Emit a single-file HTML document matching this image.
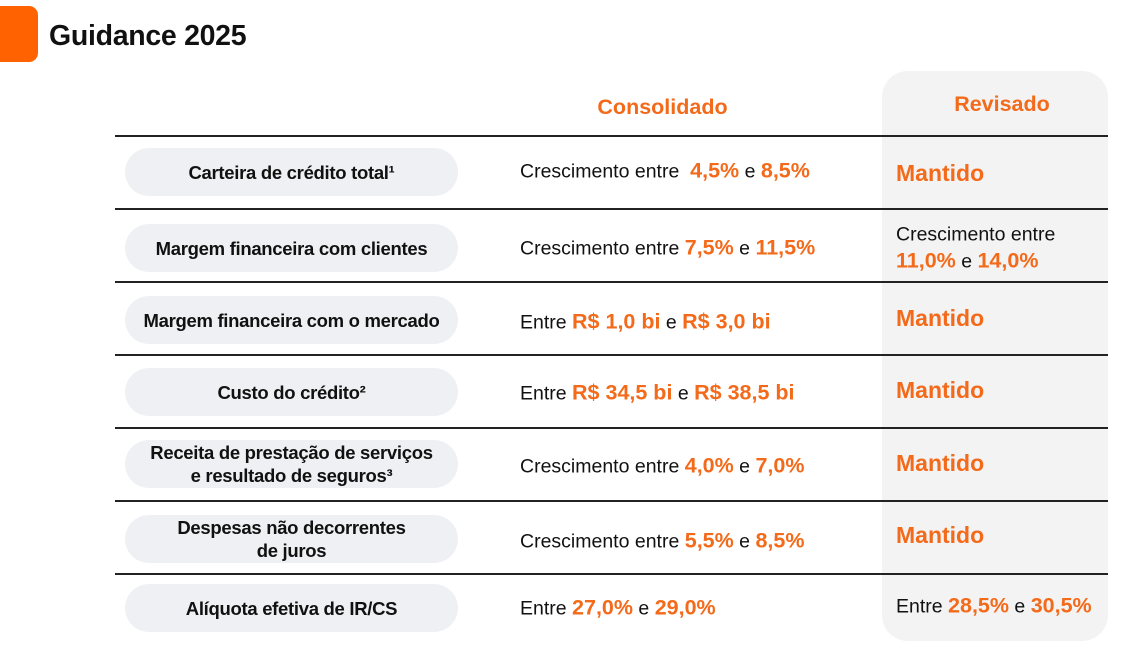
<!DOCTYPE html>
<html><head><meta charset="utf-8"><style>
body{margin:0;width:1137px;height:660px;background:#fff;position:relative;overflow:hidden;font-family:"Liberation Sans",sans-serif;color:#111}
.logo{position:absolute;left:-10px;top:6px;width:48px;height:56px;background:#ff6200;border-radius:9px}
.title{position:absolute;left:49px;top:20px;font-size:28.5px;font-weight:bold;letter-spacing:-0.3px}
.col{position:absolute;left:882px;top:71px;width:226px;height:570px;background:#f3f3f3;border-radius:26px}
.line{position:absolute;left:115px;width:993px;height:1.5px;background:#222}
.h{position:absolute;color:#f36a1a;font-weight:bold;font-size:21.5px;text-align:center}
.pill{position:absolute;left:125px;width:333px;height:48px;background:#eef0f3;border-radius:24px;display:flex;align-items:center;justify-content:center;text-align:center;font-weight:bold;font-size:18.5px;line-height:23px;letter-spacing:-0.3px}
.c{position:absolute;left:520px;font-size:19.5px;transform:translateY(-50%);white-space:nowrap}
.r{position:absolute;left:896px;font-size:19.5px;transform:translateY(-50%);white-space:nowrap;line-height:26px}
b{color:#f36a1a;font-size:21.5px}
.m{color:#f36a1a;font-weight:bold;font-size:23px}
</style></head><body>
<div class="logo"></div>
<div class="title">Guidance 2025</div>
<div class="col"></div>
<div class="h" style="left:560px;top:95px;width:205px">Consolidado</div>
<div class="h" style="left:882px;top:92px;width:240px">Revisado</div>
<div class="line" style="top:135px"></div>
<div class="line" style="top:208px"></div>
<div class="line" style="top:281px"></div>
<div class="line" style="top:354px"></div>
<div class="line" style="top:427px"></div>
<div class="line" style="top:500px"></div>
<div class="line" style="top:573px"></div>

<div class="pill" style="top:148px">Carteira de crédito total¹</div>
<div class="pill" style="top:224px">Margem financeira com clientes</div>
<div class="pill" style="top:296px">Margem financeira com o mercado</div>
<div class="pill" style="top:368px">Custo do crédito²</div>
<div class="pill" style="top:440px">Receita de prestação de serviços<br>e resultado de seguros³</div>
<div class="pill" style="top:515px">Despesas não decorrentes<br>de juros</div>
<div class="pill" style="top:584px">Alíquota efetiva de IR/CS</div>

<div class="c" style="top:171px">Crescimento entre &nbsp;<b>4,5%</b> e <b>8,5%</b></div>
<div class="c" style="top:248px">Crescimento entre <b>7,5%</b> e <b>11,5%</b></div>
<div class="c" style="top:322px">Entre <b>R$ 1,0 bi</b> e <b>R$ 3,0 bi</b></div>
<div class="c" style="top:393px">Entre <b>R$ 34,5 bi</b> e <b>R$ 38,5 bi</b></div>
<div class="c" style="top:466px">Crescimento entre <b>4,0%</b> e <b>7,0%</b></div>
<div class="c" style="top:541px">Crescimento entre <b>5,5%</b> e <b>8,5%</b></div>
<div class="c" style="top:608px">Entre <b>27,0%</b> e <b>29,0%</b></div>

<div class="r m" style="top:173px">Mantido</div>
<div class="r" style="top:248px">Crescimento entre<br><b>11,0%</b> e <b>14,0%</b></div>
<div class="r m" style="top:318px">Mantido</div>
<div class="r m" style="top:390px">Mantido</div>
<div class="r m" style="top:463px">Mantido</div>
<div class="r m" style="top:535px">Mantido</div>
<div class="r" style="top:606px">Entre <b>28,5%</b> e <b>30,5%</b></div>
</body></html>
